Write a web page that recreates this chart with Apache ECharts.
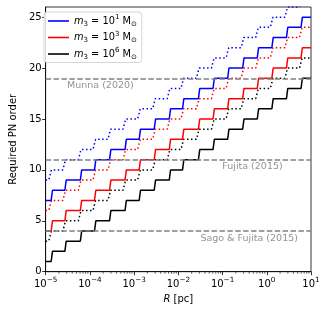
<!DOCTYPE html>
<html><head><meta charset="utf-8">
<script src="https://cdn.jsdelivr.net/npm/echarts@6/dist/echarts.min.js"></script>
<style>html,body{margin:0;padding:0;background:#fff}#c{width:327px;height:311px}</style>
</head><body><div id="c"></div>
<script>
// ---- data ----
const massExponents = ['1', '3', '6'];           // m3 = 10^x Msun
const seriesColors = ['#0000ff', '#ff0000', '#000000'];
const solidStartOrder = [7, 4, 1];                // PN order at R = 1e-5 pc (solid)
const dottedStartOrder = [9, 6, 3];               // PN order at R = 1e-5 pc (dotted)
// log10(R/pc) where each curve steps up by one order
const solidStepLogR = [-4.86, -4.55, -4.20, -3.88, -3.54, -3.19, -2.87, -2.53, -2.19, -1.89, -1.53, -1.20, -0.87, -0.53, -0.20, 0.13, 0.46, 0.79];
const dottedStepLogR = [-4.90, -4.58, -4.23, -3.90, -3.56, -3.22, -2.89, -2.55, -2.22, -1.91, -1.56, -1.22, -0.89, -0.55, -0.22, 0.11, 0.44, 0.77];
const refOrders = [19, 11, 4];
const refLabels = ['Munna (2020)', 'Fujita (2015)', 'Sago & Fujita (2015)'];
const refLabelR = [3.05e-5, 0.476, 0.40];
const refLabelOrder = [18.27, 10.33, 3.29];
const xTickExponents = [-5, -4, -3, -2, -1, 0, 1];
const yTicks = [0, 5, 10, 15, 20, 25];

const R_MIN = 1e-5, R_MAX = 10;

function buildSteps(start, steps, halfW) {
  const pts = [[R_MIN, start]];
  let v = start;
  for (const t of steps) {
    pts.push([Math.pow(10, t - halfW), v]);
    v += 1;
    pts.push([Math.pow(10, t + halfW), v]);
  }
  pts.push([R_MAX, v]);
  return pts;
}

const FONT = 'DejaVu Sans';
const names = massExponents.map(e => 'm3_' + e);
const series = [];
massExponents.forEach((e, i) => {
  series.push({
    name: names[i], type: 'line', symbol: 'none', z: 3,
    data: buildSteps(solidStartOrder[i], solidStepLogR, 0.015),
    lineStyle: { color: seriesColors[i], width: 1.5 },
    itemStyle: { color: seriesColors[i] }
  });
});
massExponents.forEach((e, i) => {
  series.push({
    name: names[i] + '_dot', type: 'line', symbol: 'none', z: 2,
    data: buildSteps(dottedStartOrder[i], dottedStepLogR, 0.03),
    lineStyle: { color: seriesColors[i], width: 1.5, type: [1.5, 2.5], cap: 'butt' },
    itemStyle: { color: seriesColors[i] }
  });
});
// reference dashed lines
series.push({
  name: 'refs', type: 'line', data: [], z: 4, silent: true,
  markLine: {
    symbol: ['none', 'none'], silent: true, label: { show: false },
    lineStyle: { color: '#808080', width: 1.5, type: [5.5, 2.4] },
    emphasis: { disabled: true },
    data: refOrders.map(v => ({ yAxis: v }))
  }
});
// reference labels
series.push({
  name: 'refLabels', type: 'scatter', symbolSize: 0, z: 5, silent: true,
  data: refLabels.map((t, i) => ({
    value: [refLabelR[i], refLabelOrder[i], t],
    label: i === 0 ? { align: 'left' } : {}
  })),
  label: {
    show: true, position: 'inside', color: '#777', fontFamily: FONT, fontSize: 9.5,
    formatter: p => p.value[2],
    align: 'center', verticalAlign: 'middle'
  }
});

// minor ticks on the log x axis
const minorVals = [];
for (let k = -5; k < 1; k++) for (let m = 2; m <= 9; m++) minorVals.push([m * Math.pow(10, k), 0]);
series.push({
  name: 'minor', type: 'custom', silent: true, clip: false, z: 10,
  data: minorVals,
  renderItem: (params, api) => {
    const p = api.coord([api.value(0), 0]);
    return { type: 'line', shape: { x1: p[0], y1: p[1], x2: p[0], y2: p[1] + 2 },
             style: { stroke: '#000', lineWidth: 0.6 } };
  }
});

const sup = n => String(n).replace('-', '\u2212');

const chart = echarts.init(document.getElementById('c'), null, { renderer: 'canvas' });
chart.setOption({
  animation: false,
  backgroundColor: '#fff',
  textStyle: { fontFamily: FONT },
  grid: { left: 40, right: 16, top: 7, bottom: 39.3, show: true, borderColor: '#000', borderWidth: 0.8, backgroundColor: 'transparent' },
  legend: {
    data: names, orient: 'vertical', left: 44, top: 12,
    icon: 'rect',
    backgroundColor: 'rgba(255,255,255,0.85)', borderColor: '#cccccc', borderWidth: 0.8, borderRadius: 3,
    padding: [2, 5, 2, 4], itemWidth: 21, itemHeight: 1.6, itemGap: 3,
    formatter: name => {
      const e = name.split('_')[1];
      return '{i|m}{sub|3}{n| = 10}{sup|' + e + '}{n| M}{sub|\u2299}';
    },
    textStyle: {
      fontFamily: FONT, fontSize: 9.8, color: '#000', padding: [0, 0, 0, 0],
      rich: {
        i: { fontFamily: FONT, fontSize: 9.8, fontStyle: 'italic', verticalAlign: 'middle' },
        n: { fontFamily: FONT, fontSize: 9.8, verticalAlign: 'middle' },
        sub: { fontFamily: FONT, fontSize: 7, padding: [6, 0, 0, 0], verticalAlign: 'middle' },
        sup: { fontFamily: FONT, fontSize: 7, padding: [0, 0, 7, 0], verticalAlign: 'middle' }
      }
    }
  },
  xAxis: {
    type: 'log', logBase: 10, min: R_MIN, max: R_MAX, splitNumber: 6,
    name: '{i|R}{n| [pc]}', nameLocation: 'middle', nameGap: 21,
    nameTextStyle: { fontFamily: FONT, fontSize: 10, color: '#000',
      rich: { i: { fontFamily: FONT, fontSize: 10, fontStyle: 'italic' }, n: { fontFamily: FONT, fontSize: 10 } } },
    axisLine: { show: true, onZero: false, lineStyle: { color: '#000', width: 0.8 } },
    axisTick: { show: true, inside: false, length: 3.5, lineStyle: { color: '#000', width: 0.8 } },
    splitLine: { show: false },
    axisLabel: {
      margin: 5, color: '#000', fontFamily: FONT, fontSize: 10,
      formatter: v => {
        const e = Math.round(Math.log10(v));
        if (xTickExponents.indexOf(e) < 0) return '';
        return '{b|10}{s|' + sup(e) + '}';
      },
      rich: {
        b: { fontFamily: FONT, fontSize: 10, verticalAlign: 'middle' },
        s: { fontFamily: FONT, fontSize: 7.2, padding: [0, 0, 8, 0], verticalAlign: 'middle' }
      }
    }
  },
  yAxis: {
    type: 'value', min: 0, max: 26, interval: 5,
    name: 'Required PN order', nameLocation: 'middle', nameGap: 24,
    nameTextStyle: { fontFamily: FONT, fontSize: 10, color: '#000' },
    axisLine: { show: true, lineStyle: { color: '#000', width: 0.8 } },
    axisTick: { show: true, inside: false, length: 3.5, lineStyle: { color: '#000', width: 0.8 } },
    splitLine: { show: false },
    axisLabel: {
      margin: 4, color: '#000', fontFamily: FONT, fontSize: 10, showMaxLabel: false,
      formatter: v => (yTicks.indexOf(v) >= 0 ? String(v) : '')
    }
  },
  series: series
});
</script></body></html>
